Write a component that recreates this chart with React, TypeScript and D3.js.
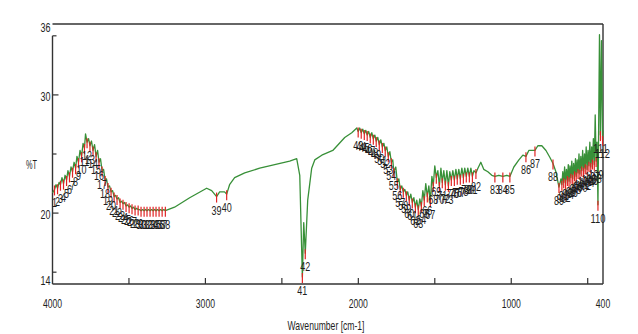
import React from "react";
import * as d3 from "d3";

// FT-IR spectrum: [wavenumber cm-1, %T]
const spectrum: [number, number][] = [
  [4000, 21.7], [3987, 22.0], [3977, 22.4], [3967, 22.1], [3957, 22.6], [3948, 22.4], [3938, 23.0], [3928, 22.5],
  [3918, 23.2], [3908, 22.8], [3899, 23.6], [3889, 23.1], [3879, 23.9], [3869, 23.5], [3859, 24.3], [3849, 23.8],
  [3840, 24.8], [3830, 24.3], [3820, 25.3], [3810, 24.8], [3800, 25.9], [3791, 25.5], [3784, 26.7], [3774, 26.0],
  [3764, 26.3], [3755, 25.7], [3745, 26.1], [3735, 25.3], [3725, 25.8], [3715, 24.8], [3705, 25.3], [3696, 24.3],
  [3686, 24.6], [3676, 23.6], [3666, 23.7], [3656, 22.8], [3647, 22.9], [3637, 22.2], [3627, 22.3], [3617, 21.8],
  [3607, 21.9], [3597, 21.4], [3588, 21.5], [3578, 21.2], [3568, 21.3], [3558, 20.9], [3548, 21.0], [3539, 20.8],
  [3529, 20.9], [3519, 20.6], [3509, 20.7], [3499, 20.5], [3489, 20.6], [3480, 20.4], [3470, 20.5], [3460, 20.3],
  [3450, 20.4], [3440, 20.3], [3431, 20.3], [3421, 20.2], [3411, 20.3], [3401, 20.2], [3391, 20.3], [3382, 20.2],
  [3372, 20.3], [3362, 20.2], [3352, 20.3], [3342, 20.2], [3332, 20.3], [3323, 20.2], [3313, 20.3], [3303, 20.2],
  [3293, 20.3], [3283, 20.2], [3272, 20.3], [3262, 20.2],
  [3202, 20.5], [3103, 21.3], [2992, 22.1], [2959, 21.9], [2927, 21.4], [2907, 21.8], [2875, 21.8], [2861, 21.6],
  [2842, 22.4], [2809, 23.0], [2743, 23.4], [2645, 23.8], [2547, 24.1], [2449, 24.4], [2403, 24.6], [2383, 23.2],
  [2366, 14.6], [2357, 19.2], [2347, 16.6], [2331, 21.1], [2305, 23.8], [2285, 24.5], [2239, 24.9], [2167, 25.3],
  [2089, 26.4], [2043, 26.8], [2010, 27.2],
  [2001, 26.9], [1991, 27.2], [1981, 26.8], [1971, 27.1], [1961, 26.7], [1951, 27.0], [1942, 26.6], [1932, 26.9],
  [1922, 26.4], [1912, 26.8], [1902, 26.3], [1892, 26.6], [1883, 26.1], [1873, 26.4], [1863, 25.8], [1853, 26.2],
  [1843, 25.6], [1833, 25.9], [1824, 25.3], [1814, 25.6], [1804, 24.8], [1794, 25.2], [1784, 24.3], [1775, 24.5],
  [1768, 23.5], [1755, 23.9], [1745, 22.6], [1735, 22.9], [1726, 22.0], [1716, 22.3], [1706, 21.8], [1696, 22.0],
  [1686, 21.5], [1677, 21.8], [1667, 21.1], [1657, 21.6], [1647, 20.9], [1637, 21.3], [1627, 20.5], [1618, 21.1],
  [1608, 20.3], [1598, 21.2], [1588, 20.6], [1578, 21.9], [1569, 21.1], [1559, 22.5], [1549, 21.4], [1539, 22.3],
  [1529, 21.0], [1519, 23.1], [1510, 22.3], [1500, 24.0], [1490, 23.0], [1480, 23.6], [1470, 22.3], [1460, 23.8],
  [1451, 22.6], [1441, 23.6], [1431, 22.4], [1421, 23.6], [1411, 22.3], [1402, 23.5], [1392, 22.8], [1382, 23.6],
  [1372, 22.8], [1362, 23.7], [1353, 22.9], [1343, 23.7], [1333, 22.9], [1323, 23.8], [1313, 23.0], [1304, 23.8],
  [1294, 23.1], [1284, 23.8], [1274, 23.1], [1264, 23.8], [1254, 23.1],
  [1244, 23.6], [1231, 23.4], [1218, 23.8], [1199, 24.3], [1180, 23.7], [1153, 23.5], [1127, 23.2], [1107, 23.1],
  [1081, 23.2], [1055, 23.1], [1029, 23.2], [1009, 23.1], [983, 23.9], [950, 24.5], [924, 24.9], [904, 24.8],
  [885, 25.3], [865, 25.3], [845, 25.3], [826, 25.7], [800, 25.7], [773, 25.3], [747, 24.7], [727, 24.2],
  [708, 23.5], [688, 22.2], [675, 22.9],
  [669, 22.4], [663, 23.5], [657, 22.6], [651, 23.9], [645, 22.5], [639, 23.7], [633, 22.8], [627, 24.1],
  [622, 22.7], [616, 24.0], [610, 23.0], [604, 24.4], [598, 22.9], [592, 24.2], [586, 23.2], [580, 24.6],
  [575, 23.1], [569, 24.5], [563, 23.4], [557, 25.0], [551, 23.3], [545, 24.8], [539, 23.6], [533, 25.3],
  [527, 23.5], [521, 25.0], [516, 23.8], [510, 25.6], [504, 23.7], [498, 25.3], [492, 24.0], [486, 26.0],
  [480, 23.9], [474, 25.6], [469, 24.2], [463, 26.3], [457, 24.1], [451, 28.3], [445, 24.4], [439, 26.0],
  [433, 20.7], [423, 35.1], [417, 26.6], [410, 34.6], [403, 26.2], [400, 27.0],
];

// Picked peaks (labelled 1..112 in order)
const peakWn: number[] = [
  3987, 3967, 3948, 3928, 3908, 3889, 3869, 3849, 3830, 3810, 3791, 3774, 3755, 3735, 3715, 3696, 3676, 3656, 3637,
  3617, 3597, 3578, 3558, 3539, 3519, 3499, 3480, 3460, 3440, 3421, 3401, 3382, 3362, 3342, 3323, 3303, 3283, 3262,
  2927, 2861, 2366, 2347,
  2001, 1981, 1961, 1942, 1922, 1902, 1883, 1863, 1843, 1824, 1804, 1784,
  1768, 1745, 1726, 1706, 1686, 1667, 1647, 1627, 1608, 1588, 1569, 1549, 1529, 1510, 1490, 1470, 1451, 1431, 1411,
  1392, 1372, 1353, 1333, 1313, 1294, 1274, 1254,
  1231, 1107, 1055, 1009, 904, 845, 727, 688,
  669, 657, 645, 633, 622, 610, 598, 586, 575, 563, 551, 539, 527, 516, 504, 492, 480, 469, 457, 445,
  433, 417, 403,
];

const xTickMarks = [3500, 3000, 2500, 2000, 1500, 1000, 500];
const xTickLabels = [4000, 3000, 2000, 1000, 400];
const yTickMarks = [15, 20, 25, 30, 35];
const yTickLabels = [14, 20, 30, 36];

const FONT = "'Liberation Sans Narrow', 'Arial Narrow', 'Liberation Sans', Arial, sans-serif";

export default function App() {
  const W = 638;
  const H = 334;
  const left = 52.5;
  const right = 603;
  const top = 24;
  const bottom = 284;
  const x = d3.scaleLinear().domain([4000, 400]).range([left, right]);
  const y = d3.scaleLinear().domain([14, 36]).range([bottom, top]);

  const line = d3
    .line<[number, number]>()
    .x((d) => x(d[0]))
    .y((d) => y(d[1]));

  const tAt = (w: number) => {
    let best = spectrum[0];
    for (const p of spectrum) if (Math.abs(p[0] - w) < Math.abs(best[0] - w)) best = p;
    return best[1];
  };

  const axisColor = "#333";
  const textColor = "#1e1e1e";

  return (
    <svg
      width={W}
      height={H}
      viewBox={`0 0 ${W} ${H}`}
      style={{ position: "absolute", left: 0, top: 0, background: "#fff" }}
    >
      <rect x={0} y={0} width={W} height={H} fill="#fff" />
      {/* frame */}
      <line x1={left} x2={right} y1={top} y2={top} stroke={axisColor} strokeWidth={1.4} />
      <line x1={right} x2={right} y1={top} y2={bottom} stroke={axisColor} strokeWidth={1.4} />
      <line x1={left} x2={right} y1={bottom} y2={bottom} stroke={axisColor} strokeWidth={1.4} />
      <line x1={left} x2={left} y1={y(35)} y2={bottom} stroke={axisColor} strokeWidth={1.4} />

      {yTickMarks.map((t) => (
        <line key={"yt" + t} x1={left} x2={left + (t % 10 === 0 ? 6 : 4)} y1={y(t)} y2={y(t)} stroke={axisColor} strokeWidth={1.2} />
      ))}
      {xTickMarks.map((t) => (
        <line key={"xt" + t} x1={x(t)} x2={x(t)} y1={bottom} y2={bottom - 6} stroke={axisColor} strokeWidth={1.2} />
      ))}

      {yTickLabels.map((t) => {
        const yy = t === 36 ? y(t) + 8 : t === 14 ? y(t) + 1 : y(t) + 6;
        const s = String(t);
        return (
          <text key={"yl" + t} x={left - 2} y={yy} textAnchor="end" fontFamily={FONT} fontSize={13} fill={textColor}
            textLength={s.length * 5} lengthAdjust="spacingAndGlyphs">
            {s}
          </text>
        );
      })}
      {xTickLabels.map((t) => {
        const s = String(t);
        return (
          <text key={"xl" + t} x={x(t)} y={308} textAnchor="middle" fontFamily={FONT} fontSize={13} fill={textColor}
            textLength={s.length * 4.8} lengthAdjust="spacingAndGlyphs">
            {s}
          </text>
        );
      })}

      <text x={26} y={169} fontFamily={FONT} fontSize={12} fill={textColor} textLength={11} lengthAdjust="spacingAndGlyphs">
        %T
      </text>
      <text x={326} y={330} textAnchor="middle" fontFamily={FONT} fontSize={13} fill={textColor} textLength={77}
        lengthAdjust="spacingAndGlyphs">
        Wavenumber [cm-1]
      </text>

      {/* spectrum */}
      <path d={line(spectrum) || ""} fill="none" stroke="#389038" strokeWidth={1.3} strokeLinejoin="round" />

      {/* peak markers */}
      {peakWn.map((w, i) => {
        const yy = y(tAt(w));
        return (
          <line key={"pm" + i} x1={x(w)} x2={x(w)} y1={yy - 4} y2={yy + 6} stroke="#e02424" strokeWidth={1.2} />
        );
      })}
      {peakWn.map((w, i) => {
        const yy = y(tAt(w));
        const s = String(i + 1);
        return (
          <text key={"pl" + i} x={x(w)} y={yy + 18} textAnchor="middle" fontFamily={FONT} fontSize={12.5} fill={textColor}
            textLength={s.length * 5} lengthAdjust="spacingAndGlyphs">
            {s}
          </text>
        );
      })}
    </svg>
  );
}
